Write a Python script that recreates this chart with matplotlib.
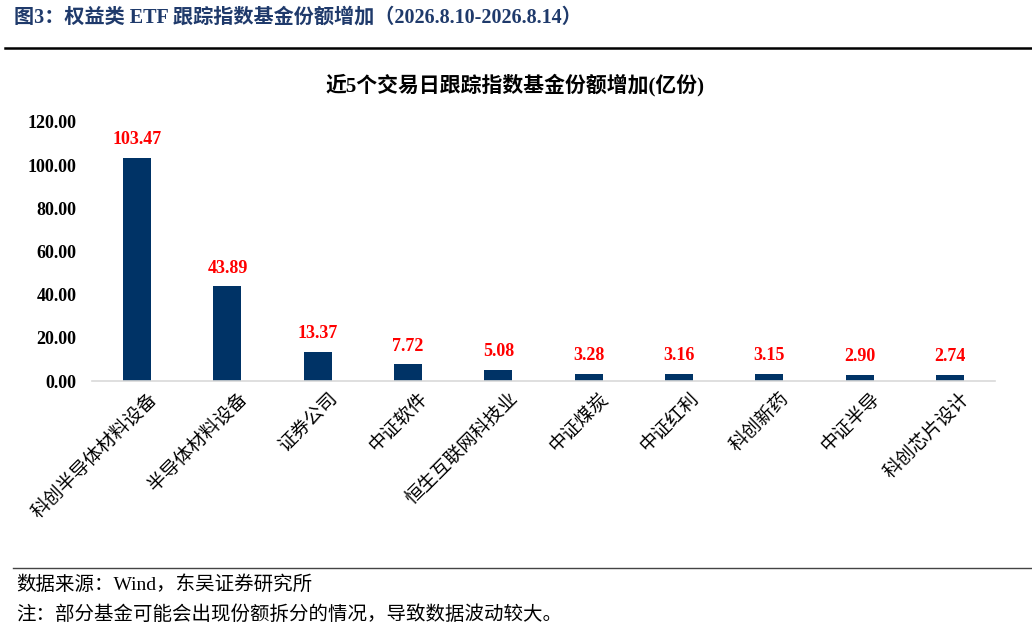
import matplotlib
matplotlib.use("Agg")
import matplotlib.pyplot as plt
from matplotlib.lines import Line2D
import matplotlib.transforms as mtransforms

categories = ["科创半导体材料设备", "半导体材料设备", "证券公司", "中证软件", "恒生互联网科技业",
              "中证煤炭", "中证红利", "科创新药", "中证半导", "科创芯片设计"]
values = [103.47, 43.89, 13.37, 7.72, 5.08, 3.28, 3.16, 3.15, 2.90, 2.74]
yticks = [0, 20, 40, 60, 80, 100, 120]

SERIF = ["Liberation Serif", "Noto Sans CJK SC", "DejaVu Sans"]
CJK = ["Noto Sans CJK SC", "Liberation Serif", "DejaVu Sans"]
plt.rcParams['font.family'] = SERIF

W, H = 1032, 632
fig = plt.figure(figsize=(W / 100, H / 100), dpi=100)

def fx(px):
    return px / W

def fy(py):
    return 1 - py / H

# header
fig.text(fx(14), fy(18), "图3：权益类 ETF 跟踪指数基金份额增加（2026.8.10-2026.8.14）",
         family=SERIF, fontsize=14.5, fontweight='bold', color='#1F3A6B', va='center', ha='left')
fig.add_artist(Line2D([fx(5), fx(1032)], [fy(48), fy(48)], color='black', lw=1.8, transform=fig.transFigure))

# chart title
fig.text(fx(515), fy(85), "近5个交易日跟踪指数基金份额增加(亿份)", family=SERIF,
         fontsize=15, fontweight='bold', color='black', va='center', ha='center')

ax = fig.add_axes([fx(92), fy(381), fx(995) - fx(92), (381 - 122) / H])
x = list(range(len(categories)))
ax.bar(x, values, width=0.31, color='#003366', zorder=2)
ax.set_xlim(-0.5, len(categories) - 0.5)
ax.set_ylim(0, 120)
ax.set_yticks(yticks)
ax.set_yticklabels([f"{v:.2f}" for v in yticks], fontsize=13, fontweight='bold', family=SERIF)
ax.set_xticks(x)
ax.set_xticklabels(categories, rotation=45, ha='right', rotation_mode='anchor', fontsize=13.5, family=CJK)
ax.tick_params(axis='both', length=0)
ax.tick_params(axis='x', pad=5)
ax.tick_params(axis='y', pad=11)
offset = mtransforms.ScaledTranslation(9 / 100, 0, fig.dpi_scale_trans)
for lbl in ax.get_xticklabels():
    lbl.set_transform(lbl.get_transform() + offset)
for s in ['top', 'right', 'left']:
    ax.spines[s].set_visible(False)
ax.spines['bottom'].set_color('#D9D9D9')
ax.spines['bottom'].set_linewidth(1.2)

for xi, v in zip(x, values):
    ax.annotate(f"{v:.2f}", (xi, v), xytext=(0, 7), textcoords='offset points',
                ha='center', va='bottom', color='#FF0000', fontsize=13, fontweight='bold', family=SERIF)

# footer
fig.add_artist(Line2D([fx(13), fx(1032)], [fy(568), fy(568)], color='#444444', lw=1.0, transform=fig.transFigure))
fig.text(fx(16), fy(585), "数据来源：Wind，东吴证券研究所", family=SERIF, fontsize=14,
         color='black', va='center', ha='left')
fig.text(fx(16), fy(614), "注：部分基金可能会出现份额拆分的情况，导致数据波动较大。", family=CJK, fontsize=14,
         color='black', va='center', ha='left')

fig.savefig("out.png", dpi=100, facecolor='white')
